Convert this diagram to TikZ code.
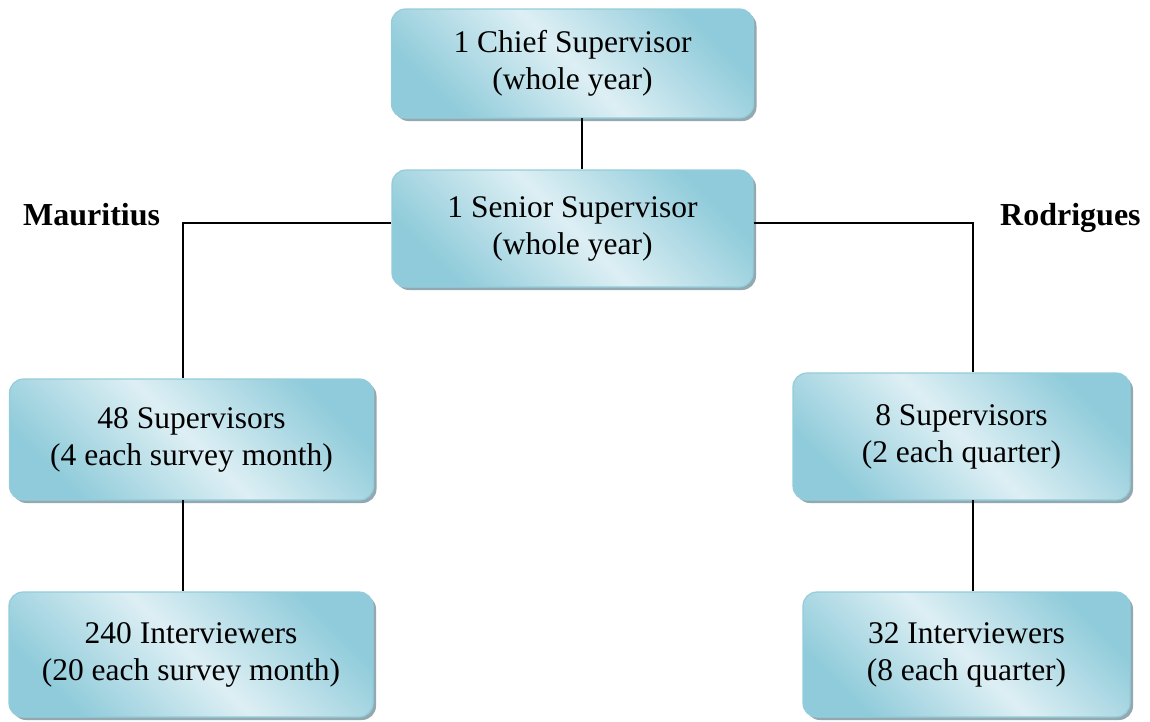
\documentclass[tikz,border=0pt]{standalone}
\usepackage{fontspec}
\setmainfont{Liberation Serif}
\usetikzlibrary{shadows}
\definecolor{boxdark}{HTML}{8FCBDA}
\definecolor{boxlight}{HTML}{DDEFF4}
\definecolor{boxborder}{HTML}{94CCDA}
\definecolor{boxshadow}{HTML}{93A9B1}
\tikzset{
  orgbox/.style={rounded corners=14pt, draw=boxborder, line width=1.2pt,
    top color=boxdark, bottom color=boxdark, middle color=boxlight, shading angle=-45,
    drop shadow={shadow xshift=3pt, shadow yshift=-3pt, fill=boxshadow, opacity=1},
    align=center, inner sep=0pt, font=\fontsize{31.5}{37}\selectfont},
  link/.style={line width=1.6pt, black},
  region/.style={font=\fontsize{32}{38}\selectfont\bfseries, anchor=base west, inner sep=0pt}
}
\begin{document}
\begin{tikzpicture}[x=1pt,y=-1pt]
\useasboundingbox (0,0) rectangle (1150,721);
\node[orgbox, minimum width=362pt, minimum height=109pt] (chief) at (572.5,63.5) {1 Chief Supervisor\\(whole year)};
\node[orgbox, minimum width=361pt, minimum height=117pt] (senior) at (572.5,228.5) {1 Senior Supervisor\\(whole year)};
\node[orgbox, minimum width=364pt, minimum height=121pt] (ms) at (191.5,439.5) {48 Supervisors\\(4 each survey month)};
\node[orgbox, minimum width=364pt, minimum height=125pt] (mi) at (191,654.5) {240 Interviewers\\(20 each survey month)};
\node[orgbox, minimum width=337pt, minimum height=127pt] (rs) at (961.5,436.5) {8 Supervisors\\(2 each quarter)};
\node[orgbox, minimum width=327pt, minimum height=125pt] (ri) at (966.5,654.5) {32 Interviewers\\(8 each quarter)};
\node[region] (maur) at (23,225) {Mauritius};
\node[region] (rod) at (1000,225) {Rodrigues};
\coordinate (ctop) at (582,118);
\coordinate (ml) at (183,223);
\coordinate (mr) at (973,223);
\coordinate (ll) at (183,500);
\coordinate (rl) at (973,500);
\draw[link] (ctop) -- (ctop |- senior.north);
\draw[link] (senior.west |- ml) -- (ml) -- (ml |- ms.north);
\draw[link] (senior.east |- mr) -- (mr) -- (mr |- rs.north);
\draw[link] (ll) -- (ll |- mi.north);
\draw[link] (rl) -- (rl |- ri.north);
\end{tikzpicture}
\end{document}
